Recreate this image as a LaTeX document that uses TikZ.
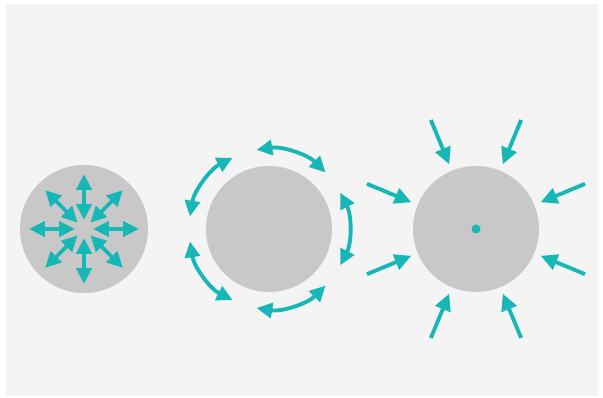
\documentclass[tikz,border=0pt]{standalone}
\usetikzlibrary{arrows.meta}
\definecolor{teal}{RGB}{24,183,183}
\definecolor{disc}{RGB}{200,200,200}
\definecolor{paper}{RGB}{244,244,244}
\begin{document}
\begin{tikzpicture}[
  x=0.02cm, y=0.02cm,
  body/.style={fill=disc, draw=none},
  ray/.style={teal, line width=2.2pt, -{Triangle[length=9.5pt, width=9pt]}},
  twoway/.style={teal, line width=2.2pt, {Triangle[length=9pt, width=8.5pt]}-{Triangle[length=9pt, width=8.5pt]}},
]
\useasboundingbox (0,0) rectangle (603,398);
% Backdrop
\fill[paper] (6,2) rectangle (598,394);

% Centres of the three discs
\coordinate (c1) at (84,169);
\coordinate (c2) at (269,169);
\coordinate (c3) at (476,169);

\fill[body] (c1) circle (64);
\fill[body] (c2) circle (63);
\fill[body] (c3) circle (63);

% Outward and inward pairs inside the first disc
\foreach \a in {0,45,...,315} {
  \draw[twoway] ([shift={(\a:9)}]c1) -- ([shift={(\a:55)}]c1);
}

% Arcs running round the second disc
\foreach \m in {0,72,...,288} {
  \draw[twoway] ([shift={(\m-27:80)}]c2) arc[start angle=\m-27, end angle=\m+27, radius=80];
}

% Pressure from outside onto the third disc
\foreach \a in {22.5,67.5,...,337.5} {
  \draw[ray] ([shift={(\a:118)}]c3) -- ([shift={(\a:70)}]c3);
}
\fill[teal] (c3) circle (4.5);

\end{tikzpicture}
\end{document}
